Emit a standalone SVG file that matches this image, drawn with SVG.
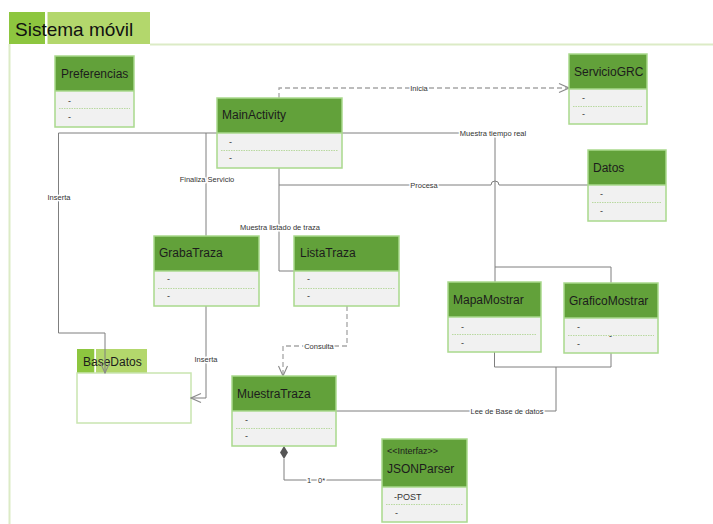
<svg xmlns="http://www.w3.org/2000/svg" width="713" height="524" viewBox="0 0 713 524">
  <style>
    .frame { stroke: #dcebc6; stroke-width: 2; fill: none; }
    .hdr { fill: #62a13a; }
    .body { fill: #f1f1f1; }
    .border { fill: none; stroke: #a9d98c; stroke-width: 1.5; }
    .sep { stroke: #b9d9a0; stroke-width: 1; stroke-dasharray: 1.5 1; }
    .name { font-family: "Liberation Sans", Arial, sans-serif; font-size: 12px; fill: #1c1c1c; }
    .attr { font-family: "Liberation Sans", Arial, sans-serif; font-size: 9px; fill: #333; }
    .lbl { font-family: "Liberation Sans", Arial, sans-serif; font-size: 7.5px; fill: #333; stroke: #fff; stroke-width: 3; paint-order: stroke; stroke-linejoin: round; }
    .conn { fill: none; stroke: #7f7f7f; stroke-width: 1; }
    .dash { fill: none; stroke: #a6a6a6; stroke-width: 1.3; stroke-dasharray: 5 3; }
  </style>
  <defs>
    <marker id="open" markerUnits="userSpaceOnUse" markerWidth="12" markerHeight="12" viewBox="0 0 12 12" refX="11" refY="6" orient="auto">
      <path d="M1,1.5 L11,6 L1,10.5" fill="none" stroke="#8a8a8a" stroke-width="1.1"/>
    </marker>
  </defs>

  <rect width="713" height="524" fill="#ffffff"/>

  <!-- package frame -->
  <g id="frame">
    <path class="frame" d="M150,44.5 H713 M9.5,44 V524"/>
    <rect x="9" y="12" width="36" height="32" fill="#8dc63f"/>
    <rect x="45" y="12" width="2.5" height="32" fill="#ffffff"/>
    <rect x="47.5" y="12" width="102.5" height="32" fill="#b3d76c"/>
    <text x="15" y="36" font-family="Liberation Sans, Arial, sans-serif" font-size="19" fill="#111">Sistema móvil</text>
  </g>

  <!-- BaseDatos package sits under the connector that enters it -->
  <g id="BaseDatos">
    <rect x="77" y="349" width="17.5" height="24" fill="#8dc63f"/>
    <rect x="94.5" y="349" width="1.5" height="24" fill="#ffffff"/>
    <rect x="96" y="349" width="51" height="24" fill="#b3d76c"/>
    <rect x="77" y="373" width="114" height="50" fill="#ffffff" stroke="#c9e5b0" stroke-width="1.5"/>
    <text class="name" x="83" y="366" fill="#2a3a1a">BaseDatos</text>
  </g>

  <!-- connectors -->
  <g id="connectors">
    <!-- Inicia -->
    <path class="dash" d="M279,98 V88 H569" marker-end="url(#open)"/>
    <text class="lbl" x="419" y="91" text-anchor="middle">Inicia</text>
    <!-- Muestra tiempo real -->
    <path class="conn" d="M342,133 H495 V282"/>
    <path class="conn" d="M495,267 H611 V283"/>
    <text class="lbl" x="493" y="135.5" text-anchor="middle">Muestra tiempo real</text>
    <!-- Procesa (hops over the vertical line) -->
    <path class="conn" d="M279,168 V271 H294"/>
    <path class="conn" d="M279,185 H491 A4,4 0 0 1 499,185 H588"/>
    <text class="lbl" x="424" y="187.5" text-anchor="middle">Procesa</text>
    <text class="lbl" x="280" y="229.5" text-anchor="middle">Muestra listado de traza</text>
    <!-- Finaliza Servicio / Inserta (left) -->
    <path class="conn" d="M217,133 H58.5 V333 H105 V373" marker-end="url(#open)"/>
    <path class="conn" d="M206,133 V236"/>
    <text class="lbl" x="207" y="181.5" text-anchor="middle">Finaliza Servicio</text>
    <text class="lbl" x="59" y="199.5" text-anchor="middle">Inserta</text>
    <!-- Inserta (GrabaTraza -> BaseDatos) -->
    <path class="conn" d="M206,306 V398 H191" marker-end="url(#open)"/>
    <text class="lbl" x="206" y="361.5" text-anchor="middle">Inserta</text>
    <!-- Consulta -->
    <path class="dash" d="M347,306 V346 H283 V376" marker-end="url(#open)"/>
    <text class="lbl" x="319" y="348.5" text-anchor="middle">Consulta</text>
    <!-- Lee de Base de datos -->
    <path class="conn" d="M494.5,352 V367 H611 V353"/>
    <path class="conn" d="M556,367 V411 H336"/>
    <text class="lbl" x="507" y="413.5" text-anchor="middle">Lee de Base de datos</text>
    <!-- composition MuestraTraza - JSONParser -->
    <path class="conn" d="M284,459 V480 H382"/>
    <polygon points="284,446 288,452.5 284,459 280,452.5" fill="#555555"/>
    <text class="lbl" x="307" y="483">1</text>
    <text class="lbl" x="318" y="483">0*</text>
  </g>

  <!-- classes -->
  <g id="Preferencias">
    <rect class="hdr" x="55" y="56" width="79" height="35"/>
    <rect class="body" x="55" y="91" width="79" height="36"/>
    <rect class="border" x="55" y="56" width="79" height="71"/>
    <line class="border" x1="55" y1="91" x2="134" y2="91"/>
    <line class="sep" x1="59" y1="108.5" x2="130" y2="108.5"/>
    <text class="name" x="61" y="78">Preferencias</text>
    <text class="attr" x="68" y="104">-</text>
    <text class="attr" x="68" y="120">-</text>
  </g>

  <g id="MainActivity">
    <rect class="hdr" x="217" y="98" width="125" height="35"/>
    <rect class="body" x="217" y="133" width="125" height="35"/>
    <rect class="border" x="217" y="98" width="125" height="70"/>
    <line class="border" x1="217" y1="133" x2="342" y2="133"/>
    <line class="sep" x1="221" y1="150.5" x2="338" y2="150.5"/>
    <text class="name" x="222" y="119">MainActivity</text>
    <text class="attr" x="229" y="145">-</text>
    <text class="attr" x="229" y="161">-</text>
  </g>

  <g id="ServicioGRC">
    <rect class="hdr" x="569" y="54" width="78" height="35"/>
    <rect class="body" x="569" y="89" width="78" height="35"/>
    <rect class="border" x="569" y="54" width="78" height="70"/>
    <line class="border" x1="569" y1="89" x2="647" y2="89"/>
    <line class="sep" x1="573" y1="106.5" x2="643" y2="106.5"/>
    <text class="name" x="574" y="76">ServicioGRC</text>
    <text class="attr" x="582" y="101">-</text>
    <text class="attr" x="582" y="117">-</text>
  </g>

  <g id="Datos">
    <rect class="hdr" x="588" y="150" width="78" height="35"/>
    <rect class="body" x="588" y="185" width="78" height="36"/>
    <rect class="border" x="588" y="150" width="78" height="71"/>
    <line class="border" x1="588" y1="185" x2="666" y2="185"/>
    <line class="sep" x1="592" y1="202.5" x2="662" y2="202.5"/>
    <text class="name" x="593" y="172">Datos</text>
    <text class="attr" x="600" y="197">-</text>
    <text class="attr" x="600" y="214">-</text>
  </g>

  <g id="GrabaTraza">
    <rect class="hdr" x="154" y="236" width="105" height="35"/>
    <rect class="body" x="154" y="271" width="105" height="35"/>
    <rect class="border" x="154" y="236" width="105" height="70"/>
    <line class="border" x1="154" y1="271" x2="259" y2="271"/>
    <line class="sep" x1="158" y1="288.5" x2="255" y2="288.5"/>
    <text class="name" x="159" y="257">GrabaTraza</text>
    <text class="attr" x="167" y="282">-</text>
    <text class="attr" x="167" y="299">-</text>
  </g>

  <g id="ListaTraza">
    <rect class="hdr" x="294" y="236" width="105" height="35"/>
    <rect class="body" x="294" y="271" width="105" height="35"/>
    <rect class="border" x="294" y="236" width="105" height="70"/>
    <line class="border" x1="294" y1="271" x2="399" y2="271"/>
    <line class="sep" x1="298" y1="288.5" x2="395" y2="288.5"/>
    <text class="name" x="300" y="257">ListaTraza</text>
    <text class="attr" x="307" y="282">-</text>
    <text class="attr" x="307" y="299">-</text>
  </g>

  <g id="MapaMostrar">
    <rect class="hdr" x="448" y="282" width="93" height="35"/>
    <rect class="body" x="448" y="317" width="93" height="35"/>
    <rect class="border" x="448" y="282" width="93" height="70"/>
    <line class="border" x1="448" y1="317" x2="541" y2="317"/>
    <line class="sep" x1="452" y1="334.5" x2="537" y2="334.5"/>
    <text class="name" x="453" y="304">MapaMostrar</text>
    <text class="attr" x="461" y="330">-</text>
    <text class="attr" x="461" y="346">-</text>
  </g>

  <g id="GraficoMostrar">
    <rect class="hdr" x="564" y="283" width="94" height="35"/>
    <rect class="body" x="564" y="318" width="94" height="35"/>
    <rect class="border" x="564" y="283" width="94" height="70"/>
    <line class="border" x1="564" y1="318" x2="658" y2="318"/>
    <line class="sep" x1="568" y1="335.5" x2="654" y2="335.5"/>
    <text class="name" x="569" y="305">GraficoMostrar</text>
    <text class="attr" x="577" y="330">-</text>
    <text class="attr" x="577" y="347">-</text>
    <text class="attr" x="609" y="339">-</text>
  </g>

  <g id="MuestraTraza">
    <rect class="hdr" x="232" y="376" width="104" height="35"/>
    <rect class="body" x="232" y="411" width="104" height="35"/>
    <rect class="border" x="232" y="376" width="104" height="70"/>
    <line class="border" x1="232" y1="411" x2="336" y2="411"/>
    <line class="sep" x1="236" y1="428.5" x2="332" y2="428.5"/>
    <text class="name" x="237" y="398">MuestraTraza</text>
    <text class="attr" x="245" y="423">-</text>
    <text class="attr" x="245" y="439">-</text>
  </g>

  <g id="JSONParser">
    <rect class="hdr" x="382" y="439" width="85" height="48"/>
    <rect class="body" x="382" y="487" width="85" height="35"/>
    <rect class="border" x="382" y="439" width="85" height="83"/>
    <line class="border" x1="382" y1="487" x2="467" y2="487"/>
    <line class="sep" x1="386" y1="504.5" x2="463" y2="504.5"/>
    <text x="387" y="454" font-family="Liberation Sans, Arial, sans-serif" font-size="9" fill="#1c1c1c">&lt;&lt;Interfaz&gt;&gt;</text>
    <text class="name" x="387" y="473">JSONParser</text>
    <text class="attr" x="394" y="500">-POST</text>
    <text class="attr" x="395" y="516">-</text>
  </g>
</svg>
